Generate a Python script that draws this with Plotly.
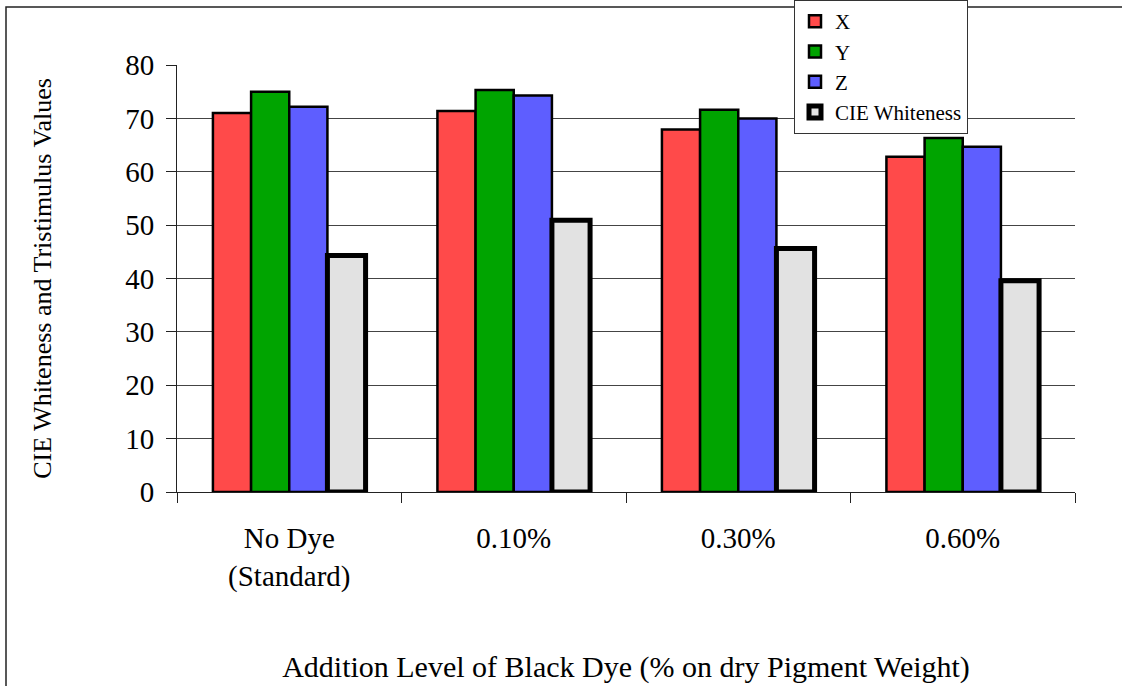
import plotly.graph_objects as go

categories = ["No Dye<br>(Standard)", "0.10%", "0.30%", "0.60%"]
x_vals = [71.0, 71.4, 67.9, 62.8]
y_vals = [75.0, 75.3, 71.6, 66.3]
z_vals = [72.2, 74.3, 70.0, 64.7]
cie_vals = [44.3, 50.9, 45.6, 39.6]
series_names = ["X", "Y", "Z", "CIE Whiteness"]
y_ticks = [0, 10, 20, 30, 40, 50, 60, 70, 80]

FONT = "Liberation Serif, Times New Roman, serif"
W, H = 1122, 686
ML, MR, MT, MB = 177, 47, 65, 194

series = [x_vals, y_vals, z_vals, cie_vals]
fills = ["#ff4a4a", "#00a400", "#5e5eff", "#e2e2e2"]
line_w = [2.5, 2.5, 2.5, 5]

fig = go.Figure()
for i, (name, vals) in enumerate(zip(series_names, series)):
    fig.add_trace(go.Bar(
        x=categories, y=vals, name=name,
        marker=dict(color=fills[i], line=dict(color="black", width=line_w[i])),
        legendgroup=name,
    ))

pw = W - ML - MR
ph = H - MT - MB
fig.update_layout(
    width=W, height=H,
    margin=dict(l=ML, r=MR, t=MT, b=MB, pad=0, autoexpand=False),
    paper_bgcolor="white", plot_bgcolor="white",
    barmode="group", bargap=0.32, bargroupgap=0,
    font=dict(family=FONT, color="black", size=29),
    showlegend=True,
    legend=dict(
        x=(794 - ML) / pw, y=(H - MB) / ph, xanchor="left", yanchor="top",
        bgcolor="white", bordercolor="#333", borderwidth=1,
        font=dict(family=FONT, size=21, color="black"),
        traceorder="grouped", tracegroupgap=0, itemwidth=30,
    ),
    xaxis=dict(
        showgrid=False, showline=True, linecolor="#222", linewidth=1,
        ticks="outside", ticklen=10, tickcolor="#222", tickson="boundaries",
        tickfont=dict(family=FONT, size=29), ticklabelstandoff=20,
        title=dict(text="Addition Level of Black Dye (% on dry Pigment Weight)",
                   font=dict(family=FONT, size=30), standoff=64),
    ),
    yaxis=dict(
        range=[0, 80], tickvals=y_ticks, showgrid=True, gridcolor="#444", gridwidth=1,
        showline=True, linecolor="#222", linewidth=1,
        ticks="outside", ticklen=10, tickcolor="#222",
        tickfont=dict(family=FONT, size=29), ticklabelstandoff=6,
        zeroline=False,
        title=dict(text="CIE Whiteness and Tristimulus Values",
                   font=dict(family=FONT, size=26), standoff=66),
    ),
    shapes=[dict(type="rect", xref="paper", yref="paper",
                 x0=(6 - ML) / pw, x1=(W + 20 - ML) / pw,
                 y0=(H - MB - (H + 20)) / ph, y1=(H - MB - 7) / ph,
                 line=dict(color="#222", width=1.5), fillcolor="rgba(0,0,0,0)",
                 layer="below")],
)

fig.write_html("out.html")
